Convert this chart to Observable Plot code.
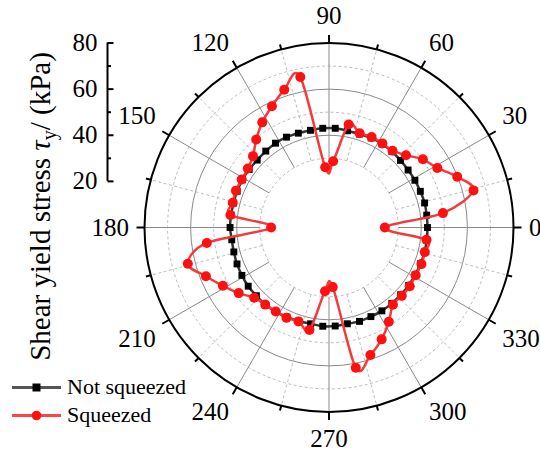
<!DOCTYPE html>
<html>
<head>
<meta charset="utf-8">
<script src="https://cdn.jsdelivr.net/npm/d3@7"></script>
<script src="https://cdn.jsdelivr.net/npm/@observablehq/plot@0.6"></script>
<style>
  body { margin: 0; background: #fff; }
  #wrap { position: relative; width: 540px; height: 458px; font-family: "Liberation Serif", "Times New Roman", serif; overflow: hidden; }
  .leg { position: absolute; left: 12px; height: 24px; display: flex; align-items: center; font-family: "Liberation Serif", "Times New Roman", serif; font-size: 22px; color: #000; white-space: nowrap; }
  .leg svg { margin-right: 6px; }
</style>
</head>
<body>
<div id="wrap"></div>
<script>
// ---- data ----
const angles = [0, 7.2, 14.4, 21.6, 28.8, 36, 43.2, 50.4, 57.6, 64.8, 72, 79.2, 86.4, 93.6, 100.8, 108, 115.2, 122.4, 129.6, 136.8,
  144, 151.2, 158.4, 165.6, 172.8, 180, 187.2, 194.4, 201.6, 208.8, 216, 223.2, 230.4, 237.6, 244.8, 252, 259.2, 266.4, 273.6, 280.8,
  288, 295.2, 302.4, 309.6, 316.8, 324, 331.2, 338.4, 345.6, 352.8];
const notSqueezed = [42.7, 42.7, 42.8, 42.6, 42.5, 42.4, 42.5, 42.8, 42.9, 42.9, 42.6, 42.7, 43.1, 43.1, 42.9, 43.0, 43.3, 43.3, 43.0, 42.7,
  42.8, 42.9, 42.8, 42.7, 42.8, 42.9, 42.5, 42.6, 42.9, 43.1, 43.3, 43.2, 43.4, 43.2, 42.9, 42.7, 42.5, 42.9, 42.8, 42.5,
  42.8, 42.7, 42.8, 42.7, 42.6, 42.7, 42.6, 42.7, 42.8, 42.7];
const squeezed = [24.2, 49.8, 64.7, 59.8, 53.6, 50.3, 45.8, 43.2, 43.2, 43.4, 43.0, 45.5, 28.8, 26.2, 66.4, 62.8, 58.1, 54.0, 49.5, 45.2,
  43.5, 43.2, 43.4, 43.1, 43.1, 25.1, 53.4, 63.2, 57.4, 52.5, 48.4, 44.5, 43.4, 43.1, 43.3, 42.8, 45.2, 27.7, 25.9, 61.9,
  58.1, 53.6, 48.4, 43.5, 43.3, 43.3, 42.9, 43.1, 42.9, 42.6];
const seriesNames = ["Not squeezed", "Squeezed"];
const radialTicks = [20, 40, 60, 80];
const radialMinorTicks = [30, 50, 70];
const angleTicks = [0, 30, 60, 90, 120, 150, 180, 210, 240, 270, 300, 330];
const angleMinorTicks = [15, 45, 75, 105, 135, 165, 195, 225, 255, 285, 315, 345];
const gridSolid = [40, 60];
const gridDashed = [30, 50, 70];
const rMin = 30, rMax = 80;
const yLabelParts = ["Shear yield stress ", "τ", "y", "/ (kPa)"];

// ---- layout ----
const W = 540, H = 458;
const CX = 328.5, CY = 227, RPX = 184.5;
const k = RPX / rMax;               // px per kPa
const FONT = "Liberation Serif, Times New Roman, serif";
const AXIS_PX = 107;                // x position of radial axis (px)
const AX = (AXIS_PX - CX) / k;      // in data units
const LABEL_FS = 25, LABEL_R = 200; // angular labels: font size, anchor radius (px)
const TITLE_FS = 29;
const rad = a => a * Math.PI / 180;
const px = (a, v) => v * Math.cos(rad(a));
const py = (a, v) => v * Math.sin(rad(a));

const black = angles.map((a, i) => ({a, v: notSqueezed[i], x: px(a, notSqueezed[i]), y: py(a, notSqueezed[i])}));
const red = angles.map((a, i) => ({a, v: squeezed[i], x: px(a, squeezed[i]), y: py(a, squeezed[i])}));

// label box: its corner nearest the centre sits on the spoke at LABEL_R
function labelCenter(a) {
  const txt = String(a);
  const w = txt.length * 0.5 * LABEL_FS, h = 0.9 * LABEL_FS;
  const c = Math.cos(rad(a)), s = Math.sin(rad(a));
  const sg = v => Math.abs(v) < 1e-6 ? 0 : Math.sign(v);
  const xp = LABEL_R * c + sg(c) * w / 2;
  const yp = LABEL_R * s + sg(s) * h / 2;
  return {x: xp / k, y: yp / k};
}

const yLabelText = yLabelParts.join("");

const chart = Plot.plot({
  width: W, height: H, margin: 0,
  style: {fontFamily: FONT, background: "white"},
  x: {type: "linear", domain: [-rMax, rMax], range: [CX - RPX, CX + RPX], axis: null},
  y: {type: "linear", domain: [-rMax, rMax], range: [CY + RPX, CY - RPX], axis: null},
  r: {type: "identity"},
  marks: [
    // grid circles
    Plot.dot(gridDashed, {x: () => 0, y: () => 0, r: d => d * k, stroke: "#bdbdbd", strokeWidth: 1, strokeDasharray: "3,2.5", fill: "none"}),
    Plot.dot(gridSolid, {x: () => 0, y: () => 0, r: d => d * k, stroke: "#8a8a8a", strokeWidth: 1, fill: "none"}),
    // spokes
    Plot.link(angleMinorTicks, {x1: a => px(a, rMin), y1: a => py(a, rMin), x2: a => px(a, rMax), y2: a => py(a, rMax), stroke: "#bdbdbd", strokeWidth: 1, strokeDasharray: "3,2.5"}),
    Plot.link(angleTicks, {x1: a => px(a, rMin), y1: a => py(a, rMin), x2: a => px(a, rMax), y2: a => py(a, rMax), stroke: "#8a8a8a", strokeWidth: 1}),
    // outer circle
    Plot.dot([rMax], {x: () => 0, y: () => 0, r: d => d * k, stroke: "#000", strokeWidth: 2, fill: "none"}),
    // angular ticks
    Plot.link(angleTicks, {x1: a => px(a, rMax), y1: a => py(a, rMax), x2: a => px(a, rMax + 8 / k), y2: a => py(a, rMax + 8 / k), stroke: "#000", strokeWidth: 2}),
    Plot.link(angleMinorTicks, {x1: a => px(a, rMax), y1: a => py(a, rMax), x2: a => px(a, rMax + 5 / k), y2: a => py(a, rMax + 5 / k), stroke: "#000", strokeWidth: 2}),
    // angular labels
    Plot.text(angleTicks, {x: a => labelCenter(a).x, y: a => labelCenter(a).y, text: a => String(a), fontSize: LABEL_FS, fill: "#000", lineAnchor: "middle", textAnchor: "middle"}),
    // radial axis
    Plot.ruleX([AX], {y1: radialTicks[0], y2: radialTicks[radialTicks.length - 1], stroke: "#000", strokeWidth: 2}),
    Plot.link(radialTicks, {x1: AX, x2: AX + 6 / k, y1: d => d, y2: d => d, stroke: "#000", strokeWidth: 2}),
    Plot.link(radialMinorTicks, {x1: AX, x2: AX + 3.5 / k, y1: d => d, y2: d => d, stroke: "#000", strokeWidth: 2}),
    Plot.text(radialTicks, {x: AX - 10 / k, y: d => d, text: d => String(d), textAnchor: "end", lineAnchor: "middle", fontSize: 25, fill: "#000"}),
    // axis title
    Plot.text([yLabelText], {frameAnchor: "left", rotate: -90, dx: 40, dy: -23, fontSize: TITLE_FS, fill: "#000", textAnchor: "middle"}),
    // data: not squeezed
    Plot.line(black, {x: "x", y: "y", curve: "cardinal-closed", stroke: "#333", strokeWidth: 2.5}),
    Plot.dot(black, {x: "x", y: "y", symbol: "square", r: 3.9, fill: "#000", stroke: "none"}),
    // data: squeezed
    Plot.line(red, {x: "x", y: "y", curve: "cardinal-closed", stroke: "#f03c3c", strokeWidth: 2.5}),
    Plot.dot(red, {x: "x", y: "y", r: 5, fill: "#ff1010", stroke: "none"})
  ]
});

const wrap = document.getElementById("wrap");
wrap.appendChild(chart);

// rich text for axis title: italic tau, subscript y
d3.select(chart).selectAll("text")
  .filter(function () { return this.textContent === yLabelText; })
  .each(function () {
    const t = d3.select(this);
    t.text(null).attr("text-anchor", "middle");
    t.append("tspan").text(yLabelParts[0]);
    t.append("tspan").attr("font-style", "italic").text(yLabelParts[1]);
    t.append("tspan").attr("font-size", 20).attr("dy", 6).text(yLabelParts[2]);
    t.append("tspan").attr("font-size", TITLE_FS).attr("dy", -6).text(yLabelParts[3]);
  });

// legend
const legendRows = [
  {name: seriesNames[0], top: 375, line: "#555", marker: '<rect x="20.5" y="7.5" width="8" height="8" fill="#000"/>'},
  {name: seriesNames[1], top: 403, line: "#f44", marker: '<circle cx="24.5" cy="11.5" r="4.8" fill="#ff1010"/>'}
];
for (const row of legendRows) {
  const div = document.createElement("div");
  div.className = "leg";
  div.style.top = row.top + "px";
  div.innerHTML = `<svg width="49" height="23"><line x1="0" y1="11.5" x2="49" y2="11.5" stroke="${row.line}" stroke-width="3"/>${row.marker}</svg><span>${row.name}</span>`;
  wrap.appendChild(div);
}
</script>
</body>
</html>
